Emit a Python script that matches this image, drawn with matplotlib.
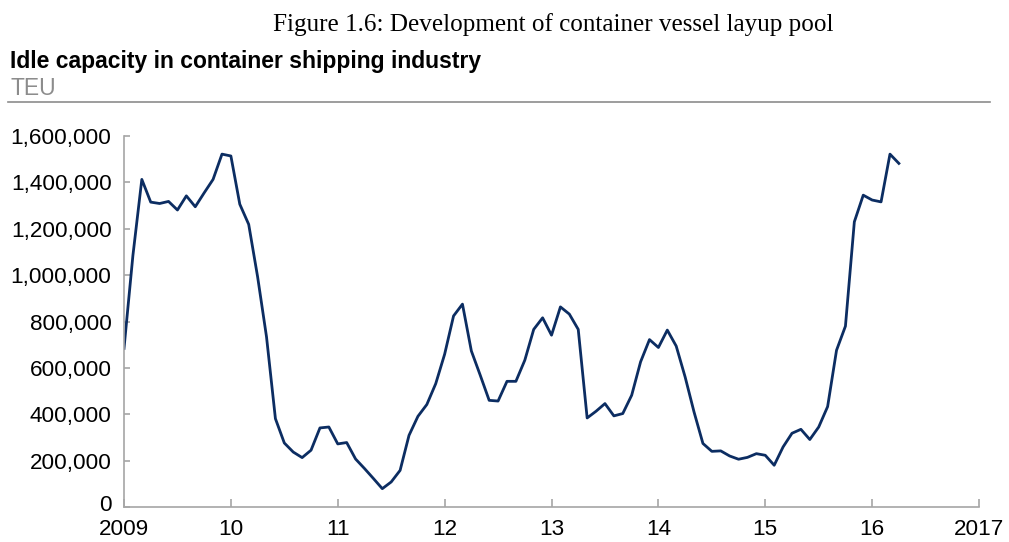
import numpy as np
import matplotlib
matplotlib.use('Agg')
import matplotlib.pyplot as plt
import matplotlib.transforms as mtransforms
from matplotlib.ticker import FuncFormatter
from matplotlib.lines import Line2D

# monthly idle capacity (TEU), Jan 2009 - Apr 2016
idle_2009 = [684, 1085, 1413, 1315, 1309, 1318, 1281, 1342, 1295, 1355, 1413, 1522]
idle_2010 = [1514, 1306, 1219, 993, 734, 381, 276, 237, 213, 245, 341, 345]
idle_2011 = [272, 278, 207, 166, 123, 79, 108, 158, 309, 391, 442, 532]
idle_2012 = [659, 824, 875, 673, 568, 460, 457, 542, 542, 633, 766, 816]
idle_2013 = [741, 863, 832, 766, 384, 413, 446, 393, 403, 482, 626, 722]
idle_2014 = [688, 763, 694, 561, 410, 274, 240, 242, 220, 206, 214, 230]
idle_2015 = [223, 180, 259, 318, 335, 291, 345, 433, 676, 780, 1230, 1345]
idle_2016 = [1324, 1316, 1522, 1482]

teu = np.array(idle_2009 + idle_2010 + idle_2011 + idle_2012 + idle_2013
               + idle_2014 + idle_2015 + idle_2016) * 1000
months = 2009 + np.arange(len(teu)) / 12

year_ticks = list(range(2009, 2018))
year_labels = ['2009', '10', '11', '12', '13', '14', '15', '16', '2017']

fig = plt.figure(figsize=(10.09, 5.42), dpi=100)
ax = fig.add_axes([0.1229, 0.0646, 0.8474, 0.6844])

ax.plot(months, teu, color='#0c2d62', linewidth=2.0)

ax.set_xlim(2009, 2017)
ax.set_ylim(0, 1600000)
ax.set_xticks(year_ticks)
ax.set_xticklabels(year_labels)
ax.set_yticks(np.arange(0, 1600001, 200000))
ax.yaxis.set_major_formatter(FuncFormatter(lambda v, p: f'{int(v):,}'))

for s in ['top', 'right']:
    ax.spines[s].set_visible(False)
for s in ['left', 'bottom']:
    ax.spines[s].set_color('#a6a6a6')
    ax.spines[s].set_linewidth(1.2)

ax.tick_params(axis='x', direction='in', length=6, width=1.2, color='#a6a6a6',
               labelsize=16.2, pad=9)
ax.tick_params(axis='y', direction='in', length=4, width=1.2, color='#a6a6a6',
               labelsize=16.2, pad=9)
for lab in ax.get_xticklabels() + ax.get_yticklabels():
    lab.set_fontfamily('Liberation Sans')
# nudge the "0" up a few pixels so it clears the "2009" label
zero = ax.get_yticklabels()[0]
zero.set_transform(zero.get_transform() +
                   mtransforms.ScaledTranslation(0, 3 / 72, fig.dpi_scale_trans))

# headings
fig.text(0.548, 0.955, 'Figure 1.6: Development of container vessel layup pool',
         ha='center', va='center', fontsize=18.1, family='Liberation Serif')
fig.text(0.01, 0.886, 'Idle capacity in container shipping industry',
         ha='left', va='center', fontsize=16.5, fontweight='bold', family='Liberation Sans')
fig.text(0.01, 0.836, 'TEU', ha='left', va='center', fontsize=16.5,
         color='#8c8c8c', family='Liberation Sans')
fig.add_artist(Line2D([0.008, 0.981], [0.812, 0.812], color='#8c8c8c',
                      linewidth=1.2, transform=fig.transFigure))

fig.savefig('out.png', dpi=100)
